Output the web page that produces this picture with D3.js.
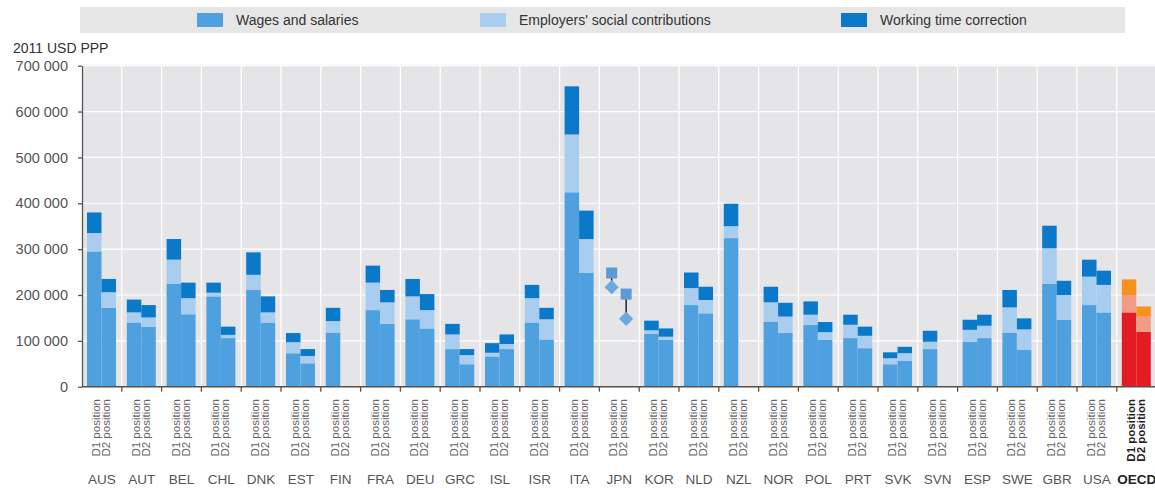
<!DOCTYPE html>
<html><head><meta charset="utf-8">
<script src="https://cdn.jsdelivr.net/npm/d3@7"></script>
<style>
html,body{margin:0;padding:0;background:#fff;}
svg{display:block;font-family:"Liberation Sans",Arial,sans-serif;}
</style></head>
<body><svg id="chart" width="1155" height="490"></svg>
<script>
// ---- data (thousands of 2011 USD PPP) ----
const countries = ["AUS","AUT","BEL","CHL","DNK","EST","FIN","FRA","DEU","GRC","ISL","ISR","ITA","JPN","KOR","NLD","NZL","NOR","POL","PRT","SVK","SVN","ESP","SWE","GBR","USA","OECD"];
const positions = ["D1","D2"];
const positionLabels = ["D1 position","D2 position"];
const seriesNames = ["Wages and salaries","Employers' social contributions","Working time correction"];
const wagesD1 = [295,140,224,197,211,73,118,167,147,82,66,140,424,null,115,178,324,142,135,106,49,82,98,118,224,178,162];
const employersD1 = [40,22,53,8,33,24,25,60,50,32,8,53,126,null,8,37,26,42,22,29,13,16,26,55,78,62,38];
const workingD1 = [45,28,45,22,49,20,29,37,38,23,21,29,105,null,21,34,49,34,29,22,13,24,22,38,49,37,34];
const wagesD2 = [172,131,158,106,140,51,null,137,127,49,82,103,248,null,102,160,null,117,102,84,56,null,106,80,146,162,120];
const employersD2 = [34,20,35,7,22,16,null,47,40,20,11,44,74,null,7,29,null,36,17,27,17,null,27,45,54,60,33];
const workingD2 = [29,27,34,18,35,15,null,27,35,13,21,25,62,null,18,29,null,30,22,20,14,null,24,24,31,31,22];
// Japan shown with markers only
const jpnSquare = [248,202];
const jpnDiamond = [217,148];
const yTicks = [0,100000,200000,300000,400000,500000,600000,700000];
const yTitle = "2011 USD PPP";

// ---- styles ----
const colors = ["#4fa0de","#a9cdee","#0b79c9"];
const oecdColors = ["#e31b23","#f39b84","#f6901e"];
const W = 1155, H = 490;
const pLeft = 82, pTop = 65.7, pBottom = 386.7, bandW = 39.8;

const svg = d3.select("#chart");
const x0 = d3.scaleBand().domain(countries).range([pLeft, pLeft + bandW*countries.length]).padding(0);
const x1 = d3.scaleBand().domain(positions).range([5, 34]).padding(0);
const y = d3.scaleLinear().domain([0,700000]).range([pBottom, pTop]);
const loc = d3.formatLocale({decimal:".", thousands:" ", grouping:[3], currency:["",""]});
const fmt = loc.format(",d");

// plot background
svg.append("rect").attr("x", pLeft).attr("y", pTop-1).attr("width", W-pLeft).attr("height", pBottom-pTop+1).attr("fill","#e5e5e8");
// horizontal grid
svg.append("g").selectAll("line").data(yTicks.slice(1)).join("line")
  .attr("x1", pLeft).attr("x2", W).attr("y1", d=>y(d)).attr("y2", d=>y(d))
  .attr("stroke","#fff").attr("stroke-width",1.2);
// vertical grid at band boundaries
svg.append("g").selectAll("line").data(countries.slice(1)).join("line")
  .attr("x1", d=>x0(d)).attr("x2", d=>x0(d)).attr("y1", pTop-1).attr("y2", pBottom)
  .attr("stroke","#fff").attr("stroke-width",1.2);

// stacked bars
const rows = [];
countries.forEach((c,i)=>{
  [[wagesD1,employersD1,workingD1],[wagesD2,employersD2,workingD2]].forEach((s,p)=>{
    if (s[0][i]==null) return;
    let base = 0;
    s.forEach((arr,k)=>{
      const v = arr[i]*1000;
      rows.push({c, p: positions[p], k, y0: base, y1: base+v});
      base += v;
    });
  });
});
svg.append("g").selectAll("rect").data(rows).join("rect")
  .attr("x", d=>x0(d.c)+x1(d.p)).attr("width", x1.bandwidth())
  .attr("y", d=>y(d.y1)).attr("height", d=>y(d.y0)-y(d.y1))
  .attr("fill", d=> d.c==="OECD" ? oecdColors[d.k] : colors[d.k]);

// Japan markers
const jg = svg.append("g");
positions.forEach((p,i)=>{
  const cx = x0("JPN")+x1(p)+x1.bandwidth()/2;
  jg.append("line").attr("x1",cx).attr("x2",cx)
    .attr("y1",y(jpnSquare[i]*1000)).attr("y2",y(jpnDiamond[i]*1000))
    .attr("stroke","#222").attr("stroke-width",1.5);
  jg.append("path").attr("d", d3.symbol(d3.symbolDiamond2 || d3.symbolDiamond, 130)())
    .attr("transform",`translate(${cx},${y(jpnDiamond[i]*1000)})`).attr("fill","#6aa9de");
  jg.append("rect").attr("x",cx-5.5).attr("y",y(jpnSquare[i]*1000)-5.5).attr("width",11).attr("height",11)
    .attr("fill","#5b9bd3");
});

// y axis
const ya = svg.append("g").attr("transform",`translate(${pLeft},0)`)
  .call(d3.axisLeft(y).tickValues(yTicks).tickFormat(fmt).tickSize(4).tickSizeOuter(0).tickPadding(10));
ya.select(".domain").attr("stroke","#555").attr("stroke-width",1.3);
ya.selectAll(".tick line").attr("stroke","#555").attr("stroke-width",1.3);
ya.selectAll("text").attr("fill","#555").style("font-size","14.5px").style("font-family","'Liberation Sans',Arial,sans-serif");

// x axis baseline and ticks
svg.append("line").attr("x1",pLeft).attr("x2",W).attr("y1",pBottom).attr("y2",pBottom).attr("stroke","#5a4f45").attr("stroke-width",1.5);
svg.append("g").selectAll("line").data(countries.slice(1)).join("line")
  .attr("x1", d=>x0(d)).attr("x2", d=>x0(d)).attr("y1", pBottom).attr("y2", pBottom+5)
  .attr("stroke","#5a4f45").attr("stroke-width",1.3);

// rotated position labels
const lg = svg.append("g");
countries.forEach(c=>{
  positions.forEach((p,i)=>{
    const cx = x0(c) + bandW/2 + (i===0 ? -6 : 4) + 4;
    lg.append("text").text(positionLabels[i])
      .attr("transform",`translate(${cx},399) rotate(-90)`)
      .attr("text-anchor","end")
      .style("font-size","11.5px")
      .style("font-weight", c==="OECD" ? "bold" : "normal")
      .attr("fill", c==="OECD" ? "#222" : "#666");
  });
});
// country labels
svg.append("g").selectAll("text").data(countries).join("text")
  .attr("x", d=>x0(d)+bandW/2).attr("y",484).attr("text-anchor","middle")
  .style("font-size","13.5px").style("font-weight", d=>d==="OECD"?"bold":"normal")
  .attr("fill", d=>d==="OECD"?"#222":"#555").text(d=>d);

// y title
svg.append("text").attr("x",13).attr("y",53).style("font-size","14px").attr("fill","#333").text(yTitle);

// legend
svg.append("rect").attr("x",80).attr("y",7).attr("width",1045).attr("height",26).attr("fill","#e6e6e6");
const legX = [197,480,841];
seriesNames.forEach((n,i)=>{
  svg.append("rect").attr("x",legX[i]).attr("y",13).attr("width",26).attr("height",14).attr("fill",colors[i]);
  svg.append("text").attr("x",legX[i]+39).attr("y",25).style("font-size","14px").attr("fill","#333").text(n);
});
</script></body></html>
